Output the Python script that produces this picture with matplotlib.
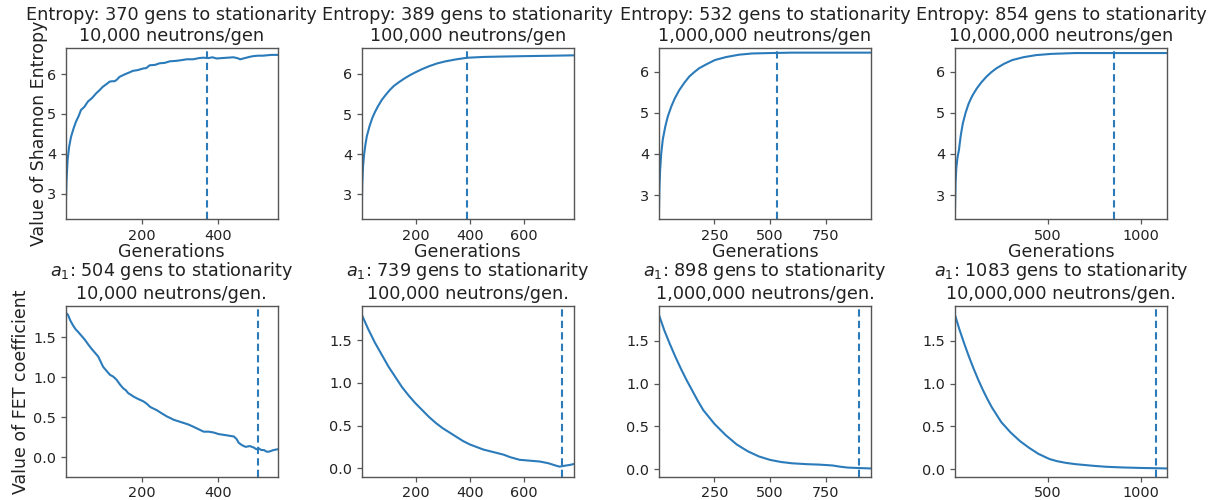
import matplotlib
matplotlib.use("Agg")
import matplotlib.pyplot as plt

# ---------------- data ----------------
neutrons = ["10,000", "100,000", "1,000,000", "10,000,000"]
entropy_gens_to_stat = [370, 389, 532, 854]
fet_gens_to_stat = [504, 739, 898, 1083]
max_gen = [556, 784, 953, 1141]

# Shannon entropy series
ent1_x = [1, 3, 6, 10, 15, 22, 28, 35, 41, 50, 59, 70, 81, 90, 98, 108, 116, 122, 129, 135,
          142, 155, 165, 177, 190, 204, 212, 221, 235, 247, 260, 274, 290, 305, 318, 335, 350,
          361, 375, 385, 396, 410, 425, 440, 450, 458, 470, 482, 493, 505, 518, 528, 540, 556]
ent1_y = [2.57, 3.30, 3.85, 4.18, 4.43, 4.65, 4.81, 4.95, 5.10, 5.18, 5.31, 5.40, 5.52, 5.60,
          5.68, 5.75, 5.81, 5.82, 5.82, 5.86, 5.93, 5.99, 6.03, 6.08, 6.10, 6.14, 6.15, 6.22,
          6.23, 6.27, 6.28, 6.32, 6.33, 6.35, 6.37, 6.37, 6.40, 6.41, 6.40, 6.42, 6.39, 6.40,
          6.41, 6.42, 6.40, 6.37, 6.40, 6.43, 6.45, 6.46, 6.46, 6.47, 6.48, 6.48]

ent2_x = [1, 3, 6, 10, 15, 20, 30, 40, 50, 60, 75, 90, 105, 120, 140, 160, 180, 200, 225,
          250, 280, 310, 350, 390, 450, 520, 600, 700, 784]
ent2_y = [2.45, 3.25, 3.70, 4.00, 4.25, 4.45, 4.70, 4.90, 5.05, 5.18, 5.35, 5.48, 5.60, 5.70,
          5.80, 5.89, 5.97, 6.04, 6.12, 6.19, 6.26, 6.31, 6.36, 6.40, 6.42, 6.43, 6.44, 6.45, 6.46]

ent3_x = [1, 3, 6, 11, 18, 29, 40, 56, 72, 92, 115, 137, 160, 181, 215, 252, 300, 360, 420,
          500, 600, 750, 953]
ent3_y = [2.62, 3.20, 3.60, 4.01, 4.35, 4.66, 4.90, 5.15, 5.35, 5.55, 5.73, 5.88, 5.99, 6.08,
          6.18, 6.28, 6.35, 6.41, 6.44, 6.45, 6.46, 6.46, 6.46]

ent4_x = [1, 4, 8, 14, 22, 32, 43, 58, 75, 95, 118, 143, 171, 195, 224, 265, 309, 370, 437,
          520, 648, 800, 1000, 1141]
ent4_y = [2.62, 3.30, 3.65, 3.90, 4.09, 4.45, 4.74, 5.00, 5.23, 5.42, 5.59, 5.74, 5.88, 5.98,
          6.08, 6.19, 6.28, 6.35, 6.40, 6.43, 6.45, 6.45, 6.45, 6.45]

# FET a1 coefficient series
fet1_x = [1, 7, 13, 20, 27, 33, 42, 51, 60, 68, 77, 86, 92, 99, 108, 117, 125, 134, 143, 152,
          158, 165, 172, 178, 190, 204, 213, 222, 230, 239, 252, 266, 275, 283, 296, 309, 322,
          336, 349, 362, 375, 388, 401, 415, 428, 441, 448, 454, 463, 472, 483, 494, 500, 507,
          513, 520, 527, 533, 545, 556]
fet1_y = [1.81, 1.78, 1.71, 1.65, 1.60, 1.57, 1.52, 1.47, 1.41, 1.36, 1.31, 1.26, 1.20, 1.13,
          1.08, 1.03, 1.01, 0.97, 0.91, 0.86, 0.84, 0.80, 0.78, 0.76, 0.73, 0.70, 0.67, 0.63,
          0.61, 0.59, 0.55, 0.51, 0.49, 0.47, 0.45, 0.43, 0.41, 0.38, 0.35, 0.32, 0.32, 0.31,
          0.29, 0.28, 0.27, 0.26, 0.23, 0.18, 0.15, 0.13, 0.14, 0.12, 0.10, 0.11, 0.09, 0.09,
          0.07, 0.07, 0.09, 0.10]

fet2_x = [1, 25, 50, 75, 100, 125, 150, 175, 200, 225, 250, 275, 300, 325, 350, 375, 400, 425,
          450, 475, 500, 525, 550, 584, 620, 658, 690, 720, 732, 750, 770, 784]
fet2_y = [1.80, 1.63, 1.47, 1.33, 1.19, 1.07, 0.95, 0.85, 0.76, 0.68, 0.60, 0.53, 0.47, 0.42,
          0.37, 0.32, 0.28, 0.25, 0.22, 0.20, 0.18, 0.16, 0.13, 0.10, 0.09, 0.08, 0.06, 0.03,
          0.02, 0.03, 0.04, 0.05]

fet3_x = [1, 25, 50, 75, 100, 125, 150, 175, 200, 250, 300, 350, 400, 450, 500, 550, 600, 667,
          720, 780, 816, 850, 900, 953]
fet3_y = [1.80, 1.62, 1.46, 1.31, 1.17, 1.04, 0.92, 0.80, 0.69, 0.53, 0.40, 0.29, 0.21, 0.15,
          0.11, 0.085, 0.07, 0.06, 0.055, 0.045, 0.03, 0.02, 0.015, 0.01]

fet4_x = [1, 25, 50, 75, 100, 125, 150, 175, 200, 250, 300, 350, 400, 450, 509, 550, 598, 650,
          700, 750, 813, 900, 1000, 1083, 1141]
fet4_y = [1.80, 1.63, 1.47, 1.32, 1.18, 1.05, 0.93, 0.82, 0.72, 0.55, 0.43, 0.33, 0.25, 0.18,
          0.12, 0.095, 0.075, 0.06, 0.05, 0.04, 0.03, 0.022, 0.016, 0.013, 0.01]

ent_x = [ent1_x, ent2_x, ent3_x, ent4_x]
ent_y = [ent1_y, ent2_y, ent3_y, ent4_y]
fet_x = [fet1_x, fet2_x, fet3_x, fet4_x]
fet_y = [fet1_y, fet2_y, fet3_y, fet4_y]

# ---------------- styling / layout ----------------
W, H = 1218, 500
DPI = 100
LINE = "#2b7bba"
TXT = "#222222"
SPINE = "#555555"
TICK_FS = 10.4
TITLE_FS = 12.7
LABEL_FS = 12.5

col_left_px = [65.7, 361.7, 659.0, 955.0]
ax_w_px = 212.0
row_top_px = [47.7, 306.0]
row_bot_px = [219.0, 476.7]

ent_ylim = [(2.37, 6.66), (2.39, 6.65), (2.42, 6.58), (2.42, 6.58)]
fet_ylim = [(-0.243, 1.891), (-0.098, 1.90), (-0.086, 1.905), (-0.086, 1.905)]

fig = plt.figure(figsize=(W / DPI, H / DPI), dpi=DPI)
fig.patch.set_facecolor("white")


def make_ax(r, c):
    left = col_left_px[c] / W
    bottom = 1 - row_bot_px[r] / H
    height = (row_bot_px[r] - row_top_px[r]) / H
    return fig.add_axes([left, bottom, ax_w_px / W, height])


def style(ax):
    for s in ax.spines.values():
        s.set_color(SPINE)
        s.set_linewidth(1.0)
    ax.tick_params(labelsize=TICK_FS, colors=SPINE, labelcolor=TXT, length=3.5, width=0.9)


for c in range(4):
    # entropy row
    ax = make_ax(0, c)
    ax.plot(ent_x[c], ent_y[c], color=LINE, lw=1.5)
    ax.axvline(entropy_gens_to_stat[c], color=LINE, lw=1.5, ls=(0, (3.5, 2.0)))
    ax.set_xlim(1, max_gen[c])
    ax.set_ylim(*ent_ylim[c])
    ax.set_yticks([3, 4, 5, 6])
    ax.set_title(f"Entropy: {entropy_gens_to_stat[c]} gens to stationarity\n"
                 f"{neutrons[c]} neutrons/gen", fontsize=TITLE_FS, color=TXT, pad=5)
    ax.set_xlabel("Generations", fontsize=LABEL_FS, color=TXT, labelpad=0)
    if c == 0:
        ax.set_ylabel("Value of Shannon Entropy", fontsize=LABEL_FS, color=TXT, labelpad=-1)
    style(ax)

    # FET row
    ax = make_ax(1, c)
    ax.plot(fet_x[c], fet_y[c], color=LINE, lw=1.5)
    ax.axvline(fet_gens_to_stat[c], color=LINE, lw=1.5, ls=(0, (3.5, 2.0)))
    ax.set_xlim(1, max_gen[c])
    ax.set_ylim(*fet_ylim[c])
    ax.set_yticks([0.0, 0.5, 1.0, 1.5])
    ax.set_title(f"$a_1$: {fet_gens_to_stat[c]} gens to stationarity\n"
                 f"{neutrons[c]} neutrons/gen.", fontsize=TITLE_FS, color=TXT, pad=5)
    if c == 0:
        ax.set_ylabel("Value of FET coefficient", fontsize=LABEL_FS, color=TXT, labelpad=2)
    style(ax)

fig.savefig("out.png", dpi=DPI, facecolor="white")
